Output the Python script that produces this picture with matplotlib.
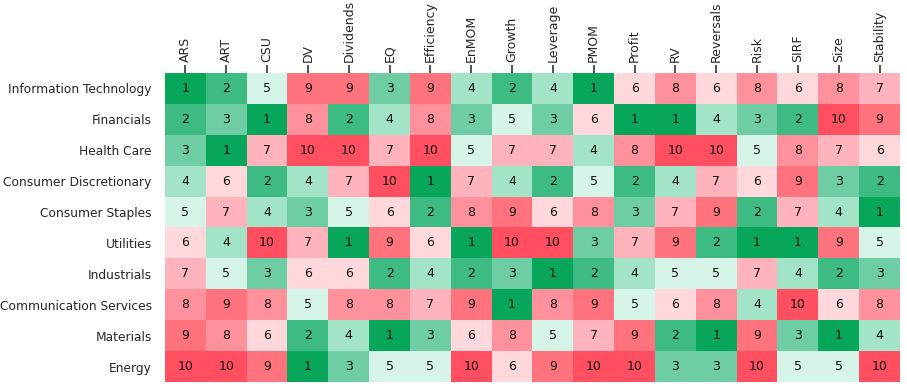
import matplotlib
matplotlib.use("Agg")
import matplotlib.pyplot as plt
from matplotlib.colors import ListedColormap, BoundaryNorm
import numpy as np

columns = ["ARS", "ART", "CSU", "DV", "Dividends", "EQ", "Efficiency", "EnMOM", "Growth",
           "Leverage", "PMOM", "Profit", "RV", "Reversals", "Risk", "SIRF", "Size", "Stability"]
sectors = ["Information Technology", "Financials", "Health Care", "Consumer Discretionary",
           "Consumer Staples", "Utilities", "Industrials", "Communication Services",
           "Materials", "Energy"]

info_tech   = [1, 2, 5, 9, 9, 3, 9, 4, 2, 4, 1, 6, 8, 6, 8, 6, 8, 7]
financials  = [2, 3, 1, 8, 2, 4, 8, 3, 5, 3, 6, 1, 1, 4, 3, 2, 10, 9]
health_care = [3, 1, 7, 10, 10, 7, 10, 5, 7, 7, 4, 8, 10, 10, 5, 8, 7, 6]
cons_disc   = [4, 6, 2, 4, 7, 10, 1, 7, 4, 2, 5, 2, 4, 7, 6, 9, 3, 2]
cons_stap   = [5, 7, 4, 3, 5, 6, 2, 8, 9, 6, 8, 3, 7, 9, 2, 7, 4, 1]
utilities   = [6, 4, 10, 7, 1, 9, 6, 1, 10, 10, 3, 7, 9, 2, 1, 1, 9, 5]
industrials = [7, 5, 3, 6, 6, 2, 4, 2, 3, 1, 2, 4, 5, 5, 7, 4, 2, 3]
comm_serv   = [8, 9, 8, 5, 8, 8, 7, 9, 1, 8, 9, 5, 6, 8, 4, 10, 6, 8]
materials   = [9, 8, 6, 2, 4, 1, 3, 6, 8, 5, 7, 9, 2, 1, 9, 3, 1, 4]
energy      = [10, 10, 9, 1, 3, 5, 5, 10, 6, 9, 10, 10, 3, 3, 10, 5, 5, 10]

data = np.array([info_tech, financials, health_care, cons_disc, cons_stap,
                 utilities, industrials, comm_serv, materials, energy])

palette = ["#08a65a", "#3dbb82", "#6ecda5", "#a3e3c8", "#d6f5e8",
           "#ffd8de", "#ffb3bc", "#ff919c", "#ff737f", "#ff4f60"]
cmap = ListedColormap(palette)
norm = BoundaryNorm(np.arange(0.5, 11.5, 1), cmap.N)

fig = plt.figure(figsize=(9.07, 3.87), dpi=100)
ax = fig.add_axes([165/907, 1 - 382/387, (900-165)/907, (382-73)/387])
ax.imshow(data, cmap=cmap, norm=norm, aspect="auto", interpolation="nearest")

for i in range(data.shape[0]):
    for j in range(data.shape[1]):
        ax.text(j, i, str(data[i, j]), ha="center", va="center", fontsize=9, color="#111111")

ax.set_xticks(range(len(columns)))
ax.set_xticklabels(columns, rotation=90, fontsize=9, color="#262626")
ax.xaxis.tick_top()
ax.set_yticks(range(len(sectors)))
ax.set_yticklabels(sectors, fontsize=8.8, color="#262626")
ax.tick_params(axis="x", length=6, width=1.2, pad=2, color="#333333", top=True, bottom=False)
ax.tick_params(axis="y", length=0, pad=9.5)
for s in ax.spines.values():
    s.set_visible(False)

fig.savefig("out.png", dpi=100)
